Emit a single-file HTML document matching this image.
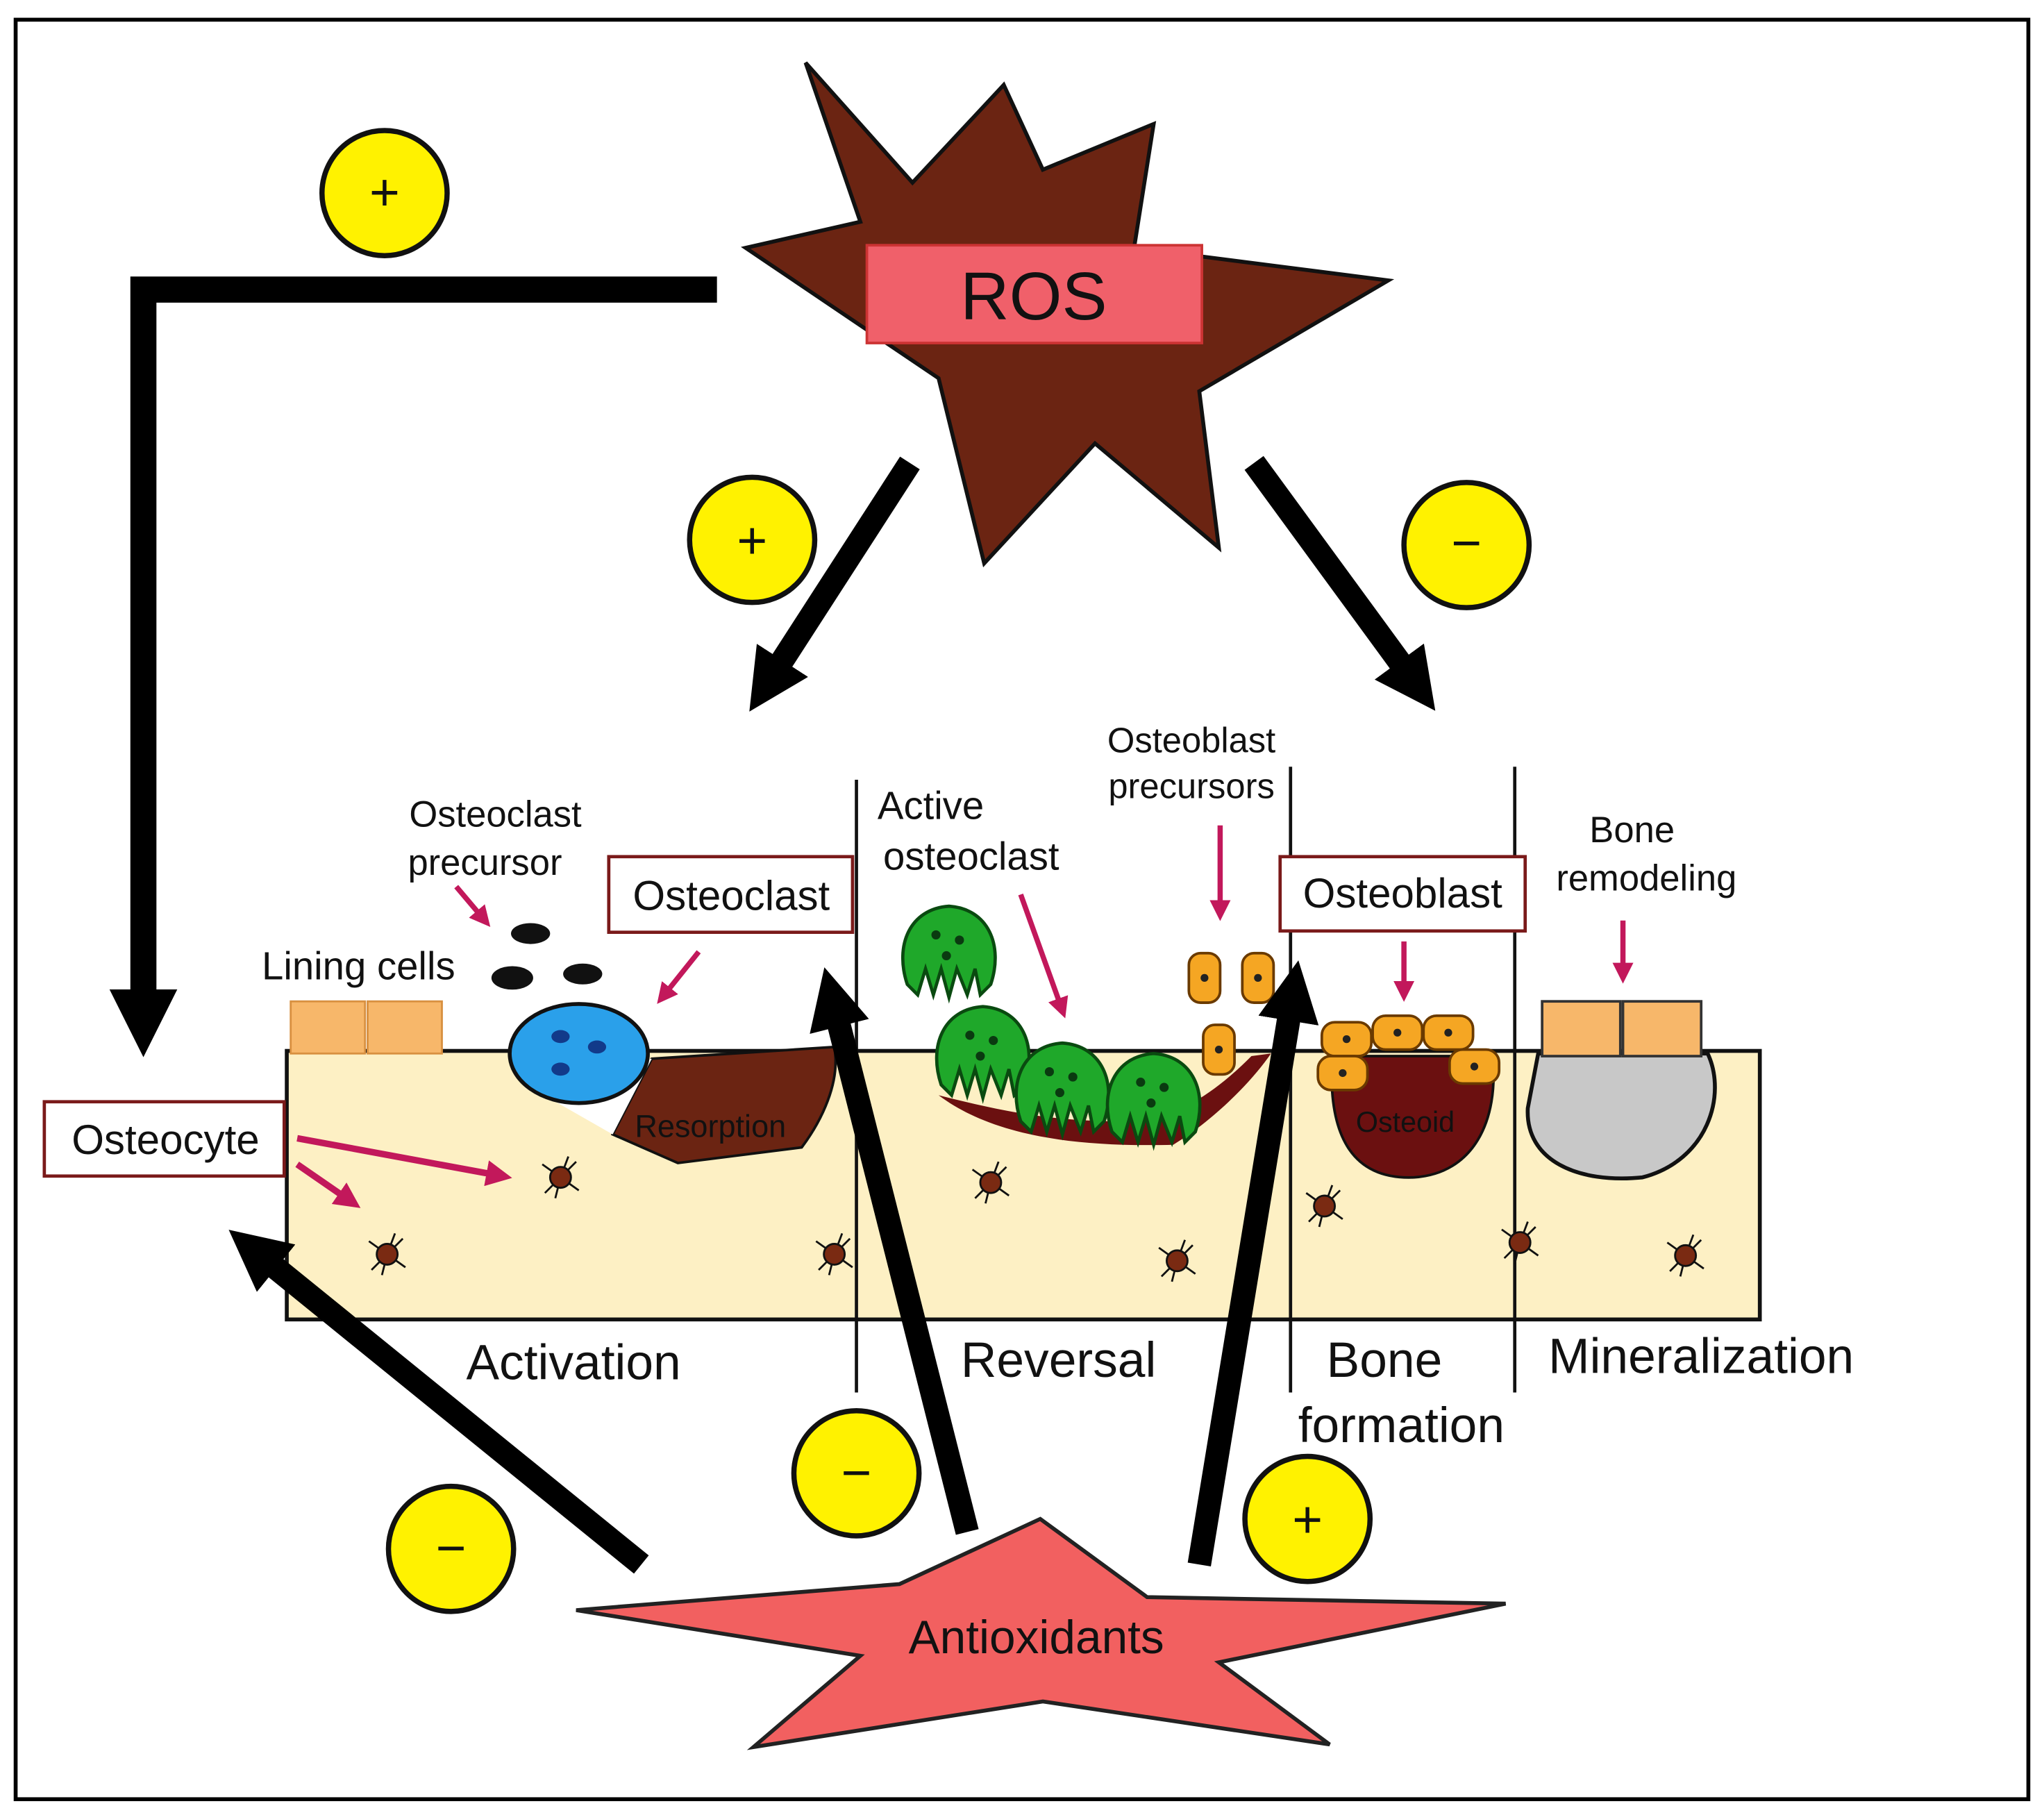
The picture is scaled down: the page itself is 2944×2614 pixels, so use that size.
<!DOCTYPE html>
<html><head><meta charset="utf-8"><style>
html,body{margin:0;padding:0;background:#fff}
svg{display:block}
text{font-family:"Liberation Sans",sans-serif;fill:#111}
</style></head><body>
<svg width="2944" height="2614" viewBox="0 0 1568 1392" xmlns="http://www.w3.org/2000/svg">
<defs>
<marker id="bk" viewBox="0 0 10 10" refX="6" refY="5" markerWidth="2.6" markerHeight="2.6" orient="auto"><path d="M0,0 L10,5 L0,10 z" fill="#000"/></marker>
<marker id="mg" viewBox="0 0 10 10" refX="6" refY="5" markerWidth="4" markerHeight="4" orient="auto"><path d="M0,0 L10,5 L0,10 z" fill="#c2185b"/></marker>
<g id="ocy"><path d="M-14,-10 L14,10 M-12,12 L12,-12 M0,0 L-4,16 M0,0 L6,-16" stroke="#111" stroke-width="1.5" fill="none"/><circle r="8" fill="#7a2a12" stroke="#111" stroke-width="1.5"/></g>
<g id="grn"><path d="M-32,20 C-42,-10 -30,-38 0,-40 C30,-38 42,-10 32,20 L24,28 L20,8 L14,28 L6,8 L0,30 L-6,8 L-12,28 L-18,8 L-24,28 Z" fill="#1fa82a" stroke="#0a4a10" stroke-width="2.5"/><circle cx="-10" cy="-18" r="3.5" fill="#0a3a10"/><circle cx="8" cy="-14" r="3.5" fill="#0a3a10"/><circle cx="-2" cy="-2" r="3.5" fill="#0a3a10"/></g>
<g id="orc"><rect x="-12" y="-19" width="24" height="38" rx="9" fill="#f5a623" stroke="#6a3a00" stroke-width="2"/><circle cx="0" cy="0" r="3" fill="#222"/></g>
<g id="orh"><rect x="-19" y="-13" width="38" height="26" rx="10" fill="#f5a623" stroke="#6a3a00" stroke-width="2"/><circle cx="0" cy="0" r="3" fill="#222"/></g>
</defs>
<rect x="12" y="15" width="1544" height="1365" fill="#fff" stroke="#000" stroke-width="3"/>

<!-- ROS star -->
<polygon points="618,48 700,140 770,65 800,130 885,95 870,190 1065,215 920,300 935,420 840,340 755,432 720,290 572,190 660,170" fill="#6b2412" stroke="#111" stroke-width="3"/>
<rect x="665" y="188" width="257" height="75" fill="#f0606a" stroke="#c33" stroke-width="2"/>
<text x="793" y="245" font-size="52" text-anchor="middle">ROS</text>

<!-- L connector -->
<polyline points="550,222 110,222 110,790" fill="none" stroke="#000" stroke-width="20" marker-end="url(#bk)"/>
<circle cx="295" cy="148" r="48" fill="#fff200" stroke="#111" stroke-width="4"/><text x="295" y="161" font-size="40" text-anchor="middle">+</text>

<line x1="698" y1="355" x2="585" y2="530" stroke="#000" stroke-width="18" marker-end="url(#bk)"/>
<circle cx="577" cy="414" r="48" fill="#fff200" stroke="#111" stroke-width="4"/><text x="577" y="428" font-size="40" text-anchor="middle">+</text>
<line x1="962" y1="355" x2="1090" y2="530" stroke="#000" stroke-width="18" marker-end="url(#bk)"/>
<circle cx="1125" cy="418" r="48" fill="#fff200" stroke="#111" stroke-width="4"/><text x="1125" y="430" font-size="40" text-anchor="middle">−</text>

<!-- bone band -->
<rect x="220" y="806" width="1130" height="206" fill="#fdf0c4" stroke="#111" stroke-width="3"/>
<g stroke="#111" stroke-width="2.5">
<line x1="657" y1="598" x2="657" y2="1068"/><line x1="990" y1="588" x2="990" y2="1068"/><line x1="1162" y1="588" x2="1162" y2="1068"/></g>

<!-- lining cells -->
<rect x="223" y="768" width="57" height="40" fill="#f7b76a" stroke="#d89040" stroke-width="1.5"/>
<rect x="282" y="768" width="57" height="40" fill="#f7b76a" stroke="#d89040" stroke-width="1.5"/>
<text x="275" y="751" font-size="30" text-anchor="middle">Lining cells</text>
<text x="380" y="634" font-size="28" text-anchor="middle">Osteoclast</text>
<text x="372" y="671" font-size="28" text-anchor="middle">precursor</text>
<ellipse cx="407" cy="716" rx="15" ry="8" fill="#111"/><ellipse cx="393" cy="750" rx="16" ry="9" fill="#111"/><ellipse cx="447" cy="747" rx="15" ry="8" fill="#111"/>
<line x1="350" y1="680" x2="372" y2="706" stroke="#c2185b" stroke-width="4" marker-end="url(#mg)"/>

<!-- resorption -->
<path d="M470,870 L500,812 L640,803 C645,830 630,860 615,880 L520,892 Z" fill="#6b2412" stroke="#111" stroke-width="2"/>
<path d="M400,830 L470,870 L500,812 Z" fill="#fff"/>
<text x="545" y="872" font-size="24" text-anchor="middle" fill="#2a0a00">Resorption</text>
<ellipse cx="444" cy="808" rx="53" ry="38" fill="#2aa0ea" stroke="#111" stroke-width="3"/>
<ellipse cx="430" cy="795" rx="7" ry="5" fill="#123a8a"/><ellipse cx="458" cy="803" rx="7" ry="5" fill="#123a8a"/><ellipse cx="430" cy="820" rx="7" ry="5" fill="#123a8a"/>
<rect x="467" y="657" width="187" height="58" fill="#fff" stroke="#7a1a1a" stroke-width="2.5"/>
<text x="561" y="698" font-size="32" text-anchor="middle">Osteoclast</text>
<line x1="536" y1="730" x2="508" y2="765" stroke="#c2185b" stroke-width="4" marker-end="url(#mg)"/>

<!-- reversal -->
<text x="714" y="628" font-size="30" text-anchor="middle">Active</text>
<text x="745" y="667" font-size="30" text-anchor="middle">osteoclast</text>
<line x1="783" y1="686" x2="815" y2="775" stroke="#c2185b" stroke-width="4" marker-end="url(#mg)"/>
<path d="M720,840 C760,870 820,880 900,878 C930,860 960,830 975,808 L960,810 C930,840 900,860 860,860 C800,860 760,850 720,840 Z" fill="#6b1010"/>
<use href="#grn" x="728" y="735"/><use href="#grn" x="754" y="812"/><use href="#grn" x="815" y="840"/><use href="#grn" x="885" y="848"/>
<text x="914" y="577" font-size="27" text-anchor="middle">Osteoblast</text>
<text x="914" y="612" font-size="27" text-anchor="middle">precursors</text>
<line x1="936" y1="633" x2="936" y2="700" stroke="#c2185b" stroke-width="4" marker-end="url(#mg)"/>
<use href="#orc" x="924" y="750"/><use href="#orc" x="965" y="750"/><use href="#orc" x="935" y="805"/>

<!-- bone formation -->
<rect x="982" y="657" width="188" height="57" fill="#fff" stroke="#7a1a1a" stroke-width="2.5"/>
<text x="1076" y="696" font-size="32" text-anchor="middle">Osteoblast</text>
<line x1="1077" y1="722" x2="1077" y2="762" stroke="#c2185b" stroke-width="4" marker-end="url(#mg)"/>
<path d="M1022,810 L1145,810 C1150,860 1130,900 1085,903 C1040,905 1018,875 1022,810 Z" fill="#6b1010" stroke="#111" stroke-width="2"/>
<text x="1078" y="868" font-size="22" text-anchor="middle" fill="#3a0a0a">Osteoid</text>
<use href="#orh" x="1033" y="797"/><use href="#orh" x="1072" y="792"/><use href="#orh" x="1111" y="792"/><use href="#orh" x="1131" y="818"/><use href="#orh" x="1030" y="823"/>

<!-- mineralization -->
<text x="1252" y="646" font-size="28" text-anchor="middle">Bone</text>
<text x="1263" y="683" font-size="28" text-anchor="middle">remodeling</text>
<line x1="1245" y1="706" x2="1245" y2="748" stroke="#c2185b" stroke-width="4" marker-end="url(#mg)"/>
<path d="M1180,808 L1310,808 C1325,840 1310,890 1260,903 C1210,908 1170,890 1172,850 Z" fill="#c8c8c8" stroke="#111" stroke-width="3"/>
<rect x="1183" y="768" width="60" height="42" fill="#f7b76a" stroke="#333" stroke-width="2"/>
<rect x="1245" y="768" width="60" height="42" fill="#f7b76a" stroke="#333" stroke-width="2"/>

<!-- osteocytes -->
<use href="#ocy" x="430" y="903"/><use href="#ocy" x="297" y="962"/><use href="#ocy" x="640" y="962"/><use href="#ocy" x="760" y="907"/><use href="#ocy" x="903" y="967"/><use href="#ocy" x="1016" y="925"/><use href="#ocy" x="1166" y="953"/><use href="#ocy" x="1293" y="963"/>
<rect x="34" y="845" width="184" height="57" fill="#fff" stroke="#7a1a1a" stroke-width="2.5"/>
<text x="127" y="885" font-size="32" text-anchor="middle">Osteocyte</text>
<line x1="228" y1="873" x2="385" y2="902" stroke="#c2185b" stroke-width="5" marker-end="url(#mg)"/>
<line x1="228" y1="893" x2="270" y2="922" stroke="#c2185b" stroke-width="5" marker-end="url(#mg)"/>

<text x="440" y="1058" font-size="38" text-anchor="middle">Activation</text>
<text x="812" y="1056" font-size="38" text-anchor="middle">Reversal</text>
<text x="1062" y="1056" font-size="38" text-anchor="middle">Bone</text>
<text x="1075" y="1106" font-size="38" text-anchor="middle">formation</text>
<text x="1305" y="1053" font-size="38" text-anchor="middle">Mineralization</text>

<!-- antioxidant arrows -->
<line x1="742" y1="1175" x2="637" y2="760" stroke="#000" stroke-width="18" marker-end="url(#bk)"/>
<line x1="920" y1="1200" x2="993" y2="755" stroke="#000" stroke-width="18" marker-end="url(#bk)"/>
<line x1="492" y1="1200" x2="190" y2="955" stroke="#000" stroke-width="18" marker-end="url(#bk)"/>
<circle cx="657" cy="1130" r="48" fill="#fff200" stroke="#111" stroke-width="4"/><text x="657" y="1143" font-size="40" text-anchor="middle">−</text>
<circle cx="1003" cy="1165" r="48" fill="#fff200" stroke="#111" stroke-width="4"/><text x="1003" y="1179" font-size="40" text-anchor="middle">+</text>
<circle cx="346" cy="1188" r="48" fill="#fff200" stroke="#111" stroke-width="4"/><text x="346" y="1201" font-size="40" text-anchor="middle">−</text>

<polygon points="442,1235 690,1215 798,1165 880,1225 1155,1230 935,1275 1020,1338 800,1305 578,1340 660,1270" fill="#f26060" stroke="#222" stroke-width="3"/>
<text x="795" y="1268" font-size="36" text-anchor="middle">Antioxidants</text>
</svg>
</body></html>
